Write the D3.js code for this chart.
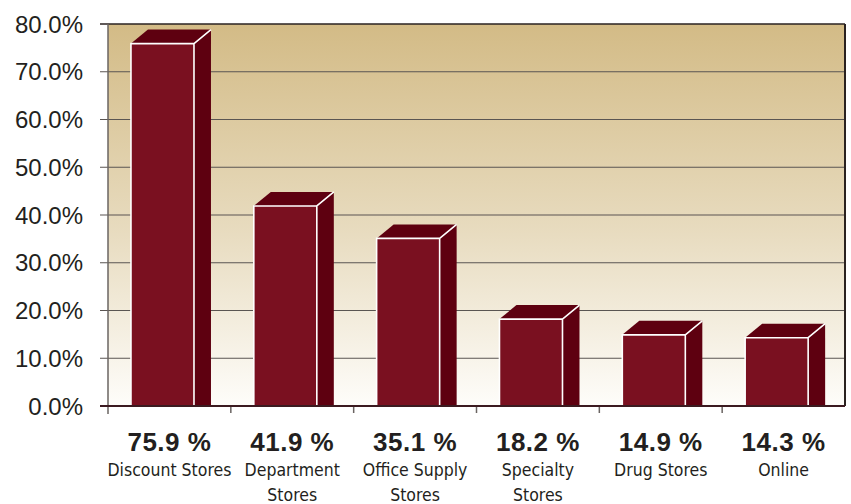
<!DOCTYPE html>
<html>
<head>
<meta charset="utf-8">
<script src="https://cdn.jsdelivr.net/npm/d3@7"></script>
<style>
  body { margin: 0; background: #fff; }
</style>
</head>
<body>
<div id="chart"></div>
<script>
// data
const categories = ["Discount Stores", "Department Stores", "Office Supply Stores", "Specialty Stores", "Drug Stores", "Online"];
const labelLines = [["Discount Stores"], ["Department", "Stores"], ["Office Supply", "Stores"], ["Specialty", "Stores"], ["Drug Stores"], ["Online"]];
const values = [75.9, 41.9, 35.1, 18.2, 14.9, 14.3];
const yTicks = [0, 10, 20, 30, 40, 50, 60, 70, 80];

const W = 851, H = 504;
const margin = {top: 24, right: 6, bottom: 98, left: 108};
const width = W - margin.left - margin.right,
  height = H - margin.top - margin.bottom;

const svg = d3.select("#chart").append("svg")
  .attr("width", W)
  .attr("height", H);

// background gradient
const defs = svg.append("defs");
const grad = defs.append("linearGradient")
  .attr("id", "bg")
  .attr("x1", 0).attr("y1", 0).attr("x2", 0).attr("y2", 1);
grad.append("stop").attr("offset", "0%").attr("stop-color", "#d3bb86");
grad.append("stop").attr("offset", "55%").attr("stop-color", "#e8dcc0");
grad.append("stop").attr("offset", "100%").attr("stop-color", "#fefdfa");

const g = svg.append("g")
  .attr("transform", "translate(" + margin.left + "," + margin.top + ")");

let x = d3.scaleBand().domain(categories).range([0, width]).padding(0);
let y = d3.scaleLinear().domain([0, 80]).range([height, 0]);

g.append("rect")
  .attr("width", width)
  .attr("height", height)
  .attr("fill", "url(#bg)");

// grid lines (extend left as tick marks)
g.selectAll("line.grid").data(yTicks.filter(d => d > 0)).enter()
  .append("line")
  .attr("class", "grid")
  .attr("x1", -8)
  .attr("x2", width)
  .attr("y1", d => y(d))
  .attr("y2", d => y(d))
  .attr("stroke", d => d === 80 ? "#2a2220" : "#5a5552")
  .attr("stroke-width", d => d === 80 ? 1.5 : 1.2);

// y labels
g.selectAll("text.ylab").data(yTicks).enter()
  .append("text")
  .attr("class", "ylab")
  .attr("x", -25)
  .attr("y", d => y(d))
  .attr("dy", "0.36em")
  .attr("text-anchor", "end")
  .style("font-family", "'Liberation Sans', Arial, sans-serif")
  .style("font-size", "24px")
  .attr("fill", "#231f20")
  .text(d => d.toFixed(1) + "%");

// left axis line
g.append("line")
  .attr("x1", 0).attr("x2", 0)
  .attr("y1", 0).attr("y2", height + 8)
  .attr("stroke", "#6a6462")
  .attr("stroke-width", 1.5);

// right border
g.append("line")
  .attr("x1", width).attr("x2", width)
  .attr("y1", 0).attr("y2", height)
  .attr("stroke", "#2a2220")
  .attr("stroke-width", 2);

// x ticks at band boundaries
const bounds = categories.map(c => x(c)).concat([width]);
g.selectAll("line.xtick").data(bounds.slice(1, -1)).enter()
  .append("line")
  .attr("class", "xtick")
  .attr("x1", d => d).attr("x2", d => d)
  .attr("y1", height).attr("y2", height + 7)
  .attr("stroke", "#6a6462")
  .attr("stroke-width", 1.5);

// bars, 3D
const bw = x.bandwidth();
const off = bw * 0.187, fw = bw * 0.513, dx = 17, dy = 14;
const bars = g.selectAll("g.bar").data(values).enter()
  .append("g").attr("class", "bar");

bars.append("path") // side
  .attr("d", (d, i) => {
    const x0 = x(categories[i]) + off + fw, y0 = y(d);
    return `M${x0},${y0} L${x0 + dx},${y0 - dy} L${x0 + dx},${height} L${x0},${height} Z`;
  })
  .attr("fill", "#5e0010");

bars.append("path") // top
  .attr("d", (d, i) => {
    const x0 = x(categories[i]) + off, y0 = y(d);
    return `M${x0},${y0} L${x0 + dx},${y0 - dy} L${x0 + fw + dx},${y0 - dy} L${x0 + fw},${y0} Z`;
  })
  .attr("fill", "#5e0010");

bars.append("rect") // front
  .attr("x", (d, i) => x(categories[i]) + off)
  .attr("y", d => y(d))
  .attr("width", fw)
  .attr("height", d => height - y(d))
  .attr("fill", "#7a1020");

bars.append("path") // white edges
  .attr("d", (d, i) => {
    const x0 = x(categories[i]) + off, y0 = y(d);
    return `M${x0},${height} L${x0},${y0} L${x0 + fw},${y0} L${x0 + fw},${height} M${x0 + fw},${y0} L${x0 + fw + dx},${y0 - dy}`;
  })
  .attr("fill", "none")
  .attr("stroke", "#ffffff")
  .attr("stroke-width", 1.6);

// baseline
g.append("line")
  .attr("x1", -8).attr("x2", width)
  .attr("y1", height).attr("y2", height)
  .attr("stroke", "#3b1a20")
  .attr("stroke-width", 2);

// value labels
g.selectAll("text.val").data(values).enter()
  .append("text")
  .attr("class", "val")
  .attr("x", (d, i) => x(categories[i]) + bw / 2)
  .attr("y", height + 45)
  .attr("text-anchor", "middle")
  .style("font-family", "'Liberation Sans', Arial, sans-serif")
  .style("font-weight", "bold")
  .style("font-size", "26px")
  .style("letter-spacing", "0.5px")
  .attr("fill", "#231f20")
  .text(d => d.toFixed(1) + " %");

// category labels
const cl = g.selectAll("text.cat").data(labelLines).enter()
  .append("text")
  .attr("class", "cat")
  .attr("x", (d, i) => x(categories[i]) + bw / 2)
  .attr("y", height + 70)
  .attr("text-anchor", "middle")
  .style("font-family", "'DejaVu Sans Condensed', 'Liberation Sans Narrow', sans-serif")
  .style("font-size", "17.5px")
  .attr("fill", "#231f20");
cl.selectAll("tspan").data(d => d).enter()
  .append("tspan")
  .attr("x", function() { return d3.select(this.parentNode).attr("x"); })
  .attr("dy", (d, j) => j === 0 ? 0 : 25)
  .text(d => d);
</script>
</body>
</html>
